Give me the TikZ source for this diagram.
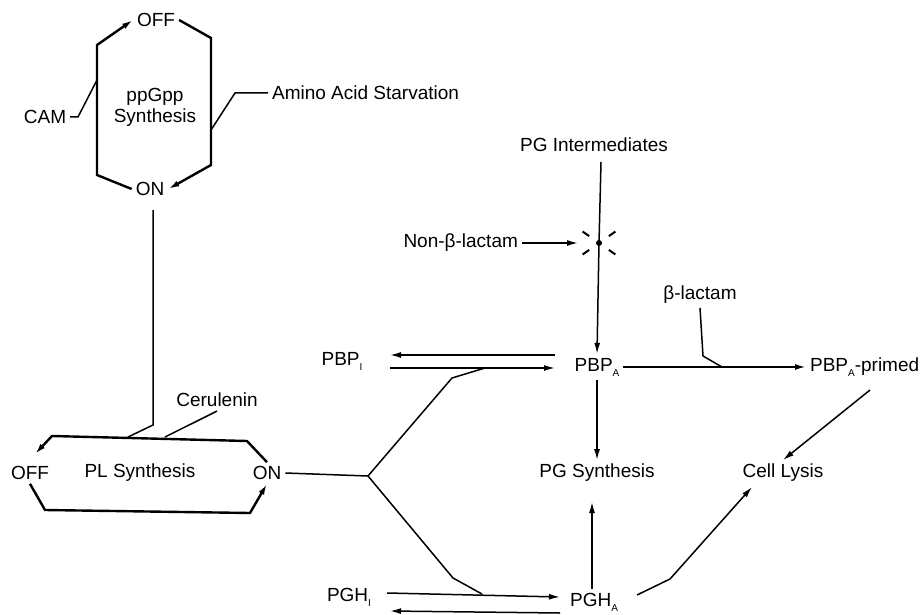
\documentclass[tikz,border=0pt]{standalone}
\usepackage{fontspec}
\setmainfont{Liberation Sans}
\usetikzlibrary{arrows.meta,positioning}
\newcommand{\lowsub}[1]{\raisebox{-0.5ex}{\fontsize{10}{10}\selectfont #1}}

\begin{document}
\begin{tikzpicture}[x=1pt,y=-1pt,font=\fontsize{19}{21}\selectfont,
  >={Latex[length=11pt,width=6pt]},line width=1.5pt,
  switchline/.style={line width=2.4pt},
  burst/.style={line width=2pt}]
  \useasboundingbox (0,0) rectangle (920,615);

  % ppGpp switch
  \node (off1) at (156,20) {OFF};
  \node[align=center] (ppg) at (155,107) {ppGpp\\Synthesis};
  \node (on1) at (150,189) {ON};
  \node (cam) at (45,117) {CAM};
  \node[anchor=west] (aas) at (268,93) {Amino Acid Starvation};
  \draw[->,switchline] (on1.west) -- (97,175) -- (97,45) -- (off1.west);
  \draw[->,switchline] (off1.east) -- (211,38) -- (211,165) -- (on1.east);
  \draw (cam.east) -- (78,117) -- (97,80);
  \draw (aas.west) -- (235,93) -- (211,130);

  % PL switch
  \node (off2) at (30,473) {OFF};
  \node (pl) at (140,473) {PL Synthesis};
  \node (on2) at (267,473) {ON};
  \node (cer) at (217,400) {Cerulenin};
  \coordinate (offtip) at (35,454);
  \draw[->,switchline] (on2.north) -- (247,441) -- (52,436) -- (offtip);
  \draw[->,switchline] (off2.south) -- (45,510) -- (250,513) -- (on2.south);
  \coordinate (ppgout) at (153,210);
  \draw (ppgout) -- (153,425) -- (128,437);
  \draw (cer.south) -- (165,437);

  % fork to PBP and PGH
  \coordinate (fork) at (368,476);
  \draw (on2.east) -- (fork);
  \draw (fork) -- (452,378) -- (485,368);
  \draw (fork) -- (453,578) -- (482,594);

  % PBP
  \node (pbpi) at (342,361) {PBP\lowsub{I}};
  \node (pbpa) at (597,367) {PBP\lowsub{A}};
  \coordinate (pbpi-r) at (390,355);
  \coordinate (pbpa-l) at (555,355);
  \draw[->] (pbpa-l) -- (pbpi-r);
  \draw[->] (pbpi-r |- 0,368) -- (pbpa-l |- 0,368);

  % PG intermediates and the non-beta-lactam block
  \node (pgint) at (594,145) {PG Intermediates};
  \coordinate (pgint-s) at (601,162);
  \coordinate (blk) at (599,243);
  \node[anchor=east] (nonb) at (522,243) {Non-β-lactam};
  \draw[->] (pgint-s) -- (blk) -- (pbpa.north -| 597,0);
  \draw[->] (nonb.east) -- (578,243);
  \foreach \a in {35,145,215,325}
    \draw[burst] (blk) ++(\a:12) -- ++(\a:8);
  \fill (blk) circle (3);

  % beta-lactam priming
  \node (blac) at (700,295) {β-lactam};
  \node[anchor=west] (prim) at (806,367) {PBP\lowsub{A}-primed};
  \coordinate (blacin) at (722,367);
  \draw[->,line width=1.9pt] (pbpa.east) -- (prim.west);
  \draw (blac.south) -- (703,356) -- (blacin);

  % PG synthesis and lysis
  \node (pgs) at (597,473) {PG Synthesis};
  \node (lysis) at (783,473) {Cell Lysis};
  \coordinate (pgs-in) at (592,502);
  \coordinate (lysis-in) at (752,487);
  \draw[->] (pbpa.south) -- (pgs.north);
  \draw[->] (870,390) -- (lysis.north);

  % PGH
  \node (pghi) at (349,597) {PGH\lowsub{I}};
  \node (pgha) at (594,602) {PGH\lowsub{A}};
  \coordinate (pghi-r) at (387,593);
  \coordinate (pgha-l) at (560,597);
  \coordinate (pgha-r) at (637,595);
  \draw[->] (pghi-r) -- (pgha-l);
  \draw[->] (560,613) -- (390,611);
  \draw[->] (pgha.north -| 592,0) -- (pgs-in);
  \draw[->] (pgha-r) -- (670,579) -- (lysis-in);
\end{tikzpicture}
\end{document}
